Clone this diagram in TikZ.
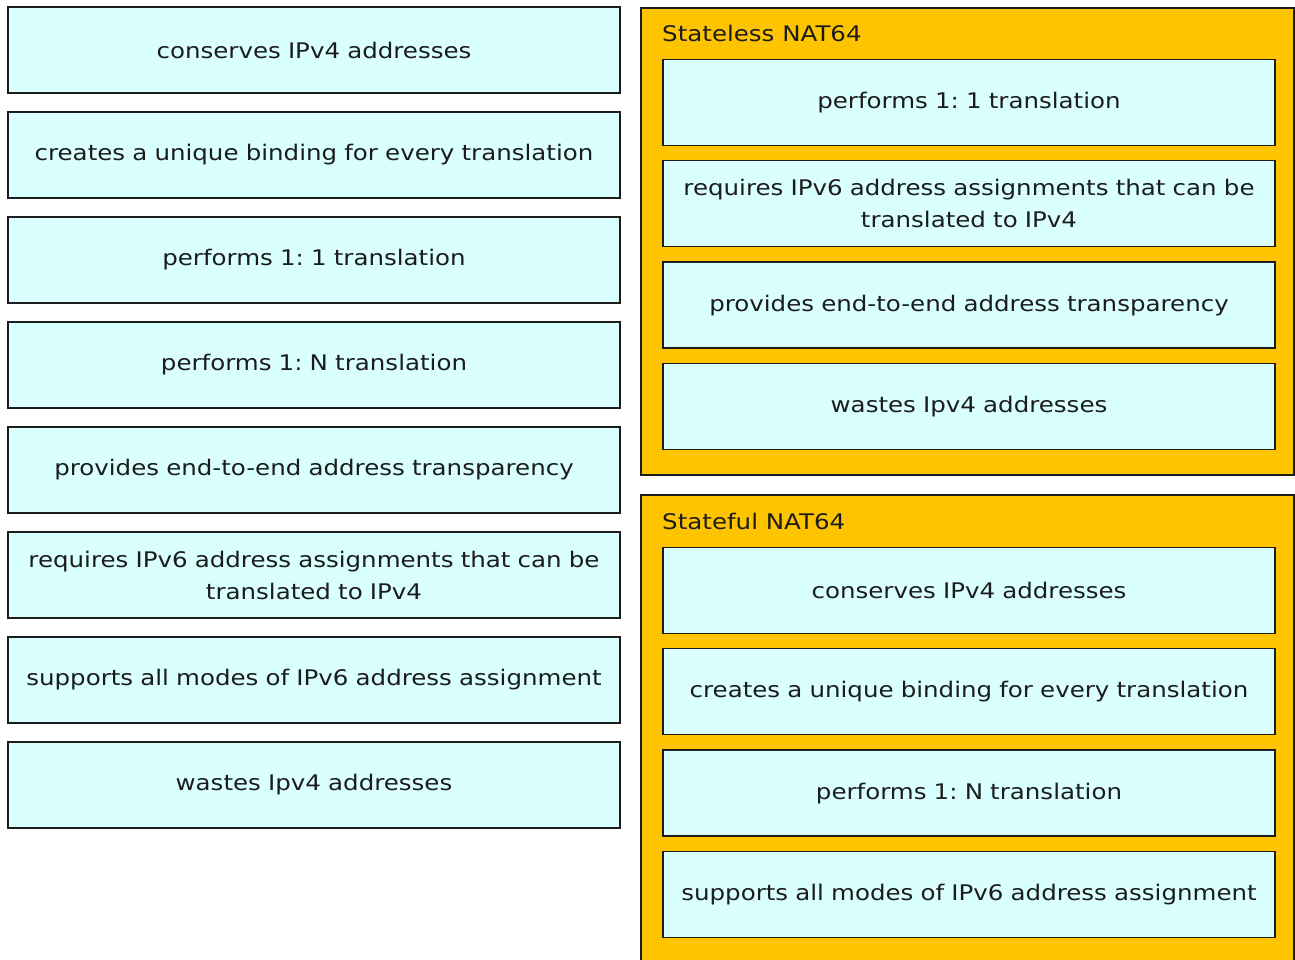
\documentclass[tikz,border=0pt]{standalone}
\usepackage{fontspec}
\setmainfont{DejaVu Sans}[FakeStretch=1.14]
\usepackage{tikz}
\usetikzlibrary{positioning}
\definecolor{itemcyan}{HTML}{DAFFFF}
\definecolor{panelgold}{HTML}{FFC400}
\definecolor{inkgray}{HTML}{1C1C1C}
\frenchspacing
\tikzset{
        x=1pt, y=-1pt, % one unit is one pixel of the screenshot
        item/.style={draw=inkgray, line width=1.3pt, fill=itemcyan, text=inkgray,
          minimum width=612pt, minimum height=86pt, text width=606pt,
          align=center, inner sep=0pt, font=\fontsize{21.5}{32}\selectfont}, % sets properties for each answer box
        panel/.style={draw=inkgray, line width=1.3pt, fill=panelgold}, % the two target areas
        paneltitle/.style={anchor=west, inner sep=0pt, text=inkgray, font=\fontsize{21.5}{32}\selectfont},
    }
\begin{document}
\begin{tikzpicture}[node distance=105pt]
    \useasboundingbox (0,0) rectangle (1295,960);
    % answer pool
    \node[item] (c1) at (314,50) {conserves IPv4 addresses};
    \node[item, below of=c1] (c2) {creates a unique binding for every translation};
    \node[item, below of=c2] (c3) {performs 1: 1 translation};
    \node[item, below of=c3] (c4) {performs 1: N translation};
    \node[item, below of=c4] (c5) {provides end-to-end address transparency};
    \node[item, below of=c5] (c6) {requires IPv6 address assignments that can be\\translated to IPv4};
    \node[item, below of=c6] (c7) {supports all modes of IPv6 address assignment};
    \node[item, below of=c7] (c8) {wastes Ipv4 addresses};
    % stateless target
    \draw[panel] (641,8) rectangle (1294,475);
    \node[paneltitle] (sl) at (662,33) {Stateless NAT64};
    \node[item] (sl1) at (969,102.5) {performs 1: 1 translation};
    \node[item, below of=sl1, node distance=101.3pt] (sl2) {requires IPv6 address assignments that can be\\translated to IPv4};
    \node[item, below of=sl2, node distance=101.3pt] (sl3) {provides end-to-end address transparency};
    \node[item, below of=sl3, node distance=101.3pt] (sl4) {wastes Ipv4 addresses};
    % stateful target
    \draw[panel] (641,495) rectangle (1294,975);
    \node[paneltitle] (sf) at (662,521) {Stateful NAT64};
    \node[item] (sf1) at (969,590.5) {conserves IPv4 addresses};
    \node[item, below of=sf1, node distance=101.3pt] (sf2) {creates a unique binding for every translation};
    \node[item, below of=sf2, node distance=101.3pt] (sf3) {performs 1: N translation};
    \node[item, below of=sf3, node distance=101.3pt] (sf4) {supports all modes of IPv6 address assignment};
  \end{tikzpicture}
\end{document}
